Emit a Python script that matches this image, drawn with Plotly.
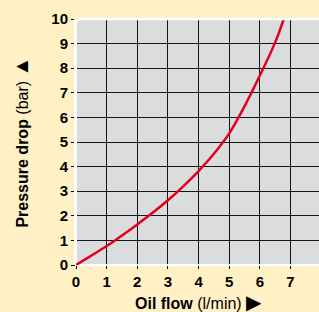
import plotly.graph_objects as go

# Data
oil_flow = [0, 0.5, 1, 1.5, 2, 2.5, 3, 3.5, 4, 4.5, 5, 5.5, 6, 6.5, 6.78]
pressure_drop = [0, 0.38, 0.77, 1.2, 1.65, 2.12, 2.63, 3.2, 3.82, 4.52, 5.35, 6.45, 7.7, 9.05, 10]
x_ticks = [0, 1, 2, 3, 4, 5, 6, 7]
y_ticks = [0, 1, 2, 3, 4, 5, 6, 7, 8, 9, 10]
x_title = "<b>Oil flow</b> (l/min) <span style='font-size:20px'>▶</span>"
y_title = "<b>Pressure drop</b> (bar) <span style='font-size:20px'>▲</span>"

CREAM = "#FFF0C6"
PLOTBG = "#DBDCDE"
RED = "#E2001A"
FONT = "Liberation Sans, Arial, sans-serif"

fig = go.Figure()
fig.add_trace(go.Scatter(
    x=oil_flow, y=pressure_drop, mode="lines",
    line=dict(color=RED, width=2.5, shape="spline", smoothing=1.0),
    hoverinfo="skip", showlegend=False,
))

fig.update_layout(
    width=319, height=312,
    margin=dict(l=76, r=0, t=19, b=47, pad=0),
    paper_bgcolor=CREAM, plot_bgcolor=PLOTBG,
    font=dict(family=FONT, color="black"),
    showlegend=False,
)

fig.update_xaxes(
    range=[0, 7.93], tickvals=x_ticks, ticktext=[f"<b>{v}</b>" for v in x_ticks],
    tickfont=dict(size=15, family=FONT, color="black"),
    ticks="outside", ticklen=3, tickwidth=1, tickcolor="black",
    showgrid=True, gridcolor="#151515", gridwidth=1.3,
    zeroline=True, zerolinecolor="white", zerolinewidth=2,
    showline=False, fixedrange=True,
)
fig.update_yaxes(
    range=[0, 10], tickvals=y_ticks, ticktext=[f"<b>{v}</b>" for v in y_ticks],
    tickfont=dict(size=15, family=FONT, color="black"),
    ticks="outside", ticklen=4, tickwidth=1, tickcolor="black",
    showgrid=True, gridcolor="#151515", gridwidth=1.3,
    zeroline=True, zerolinecolor="white", zerolinewidth=2,
    showline=False, fixedrange=True,
)

# white top and left border of plot area
fig.add_shape(type="line", xref="paper", yref="paper", x0=0, x1=1, y0=1, y1=1,
              line=dict(color="white", width=2.5))
fig.add_shape(type="line", xref="paper", yref="paper", x0=-0.004, x1=-0.004, y0=0, y1=1,
              line=dict(color="white", width=2))
# rounded top-left corner
rx, ry = 7 / 243, 7 / 246
fig.add_shape(type="path", xref="paper", yref="paper",
              path=f"M -0.006,1.006 L {rx:.4f},1.006 Q -0.004,1.004 -0.006,{1 - ry:.4f} Z",
              fillcolor=CREAM, line=dict(width=0))
fig.add_shape(type="path", xref="paper", yref="paper",
              path=f"M {rx:.4f},1 Q -0.004,1 -0.004,{1 - ry:.4f}",
              line=dict(color="white", width=2))

# partially visible "8" tick label at the right edge
fig.add_annotation(x=8, xref="x", y=-0.053, yref="paper", text="<b>8</b>",
                   showarrow=False, font=dict(size=15, family=FONT, color="black"),
                   xanchor="center", yanchor="middle")

fig.add_annotation(x=0.506, xref="paper", y=-0.15, yref="paper", text=x_title,
                   showarrow=False, font=dict(size=16, family=FONT, color="black"),
                   xanchor="center", yanchor="middle")
fig.add_annotation(x=-0.226, xref="paper", y=0.498, yref="paper", text=y_title,
                   textangle=-90, showarrow=False,
                   font=dict(size=16, family=FONT, color="black"),
                   xanchor="center", yanchor="middle")

fig.write_html(
    "out.html",
    config={"displayModeBar": False},
    post_script="document.body.style.margin='0';document.body.style.overflow='hidden';",
)
